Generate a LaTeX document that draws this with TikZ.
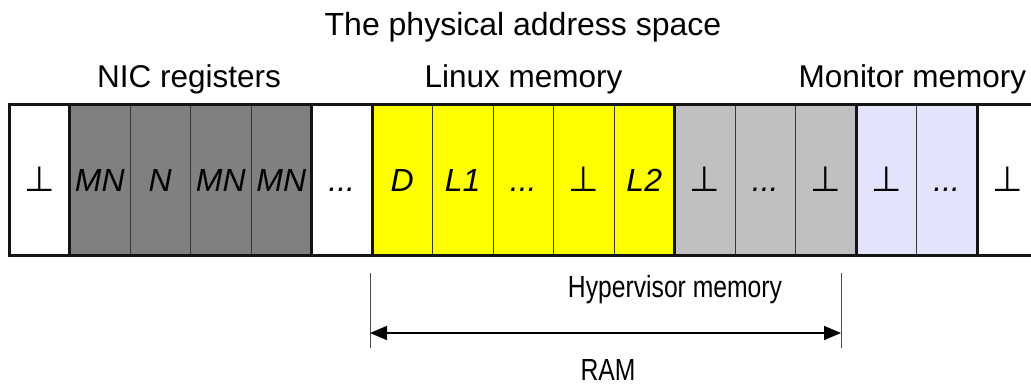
\documentclass[tikz,border=0pt]{standalone}
\usepackage{fontspec}
\setmainfont{Liberation Sans}
\newfontfamily\symfont{DejaVu Sans}
\usetikzlibrary{arrows.meta}

\definecolor{nicgray}{RGB}{128,128,128}
\definecolor{hypgray}{RGB}{192,192,192}
\definecolor{linuxyellow}{RGB}{255,255,0}
\definecolor{monlav}{RGB}{227,227,251}
\definecolor{edge}{RGB}{20,20,20}

% cell contents: italic ellipsis and the "undefined" mark
\newcommand{\celldots}{\itshape .\kern0pt.\kern0pt.}
\newcommand{\undef}{{\symfont\fontsize{35}{36}\selectfont ⊥}}

\tikzset{
  cell/.style={draw=edge!85, line width=1pt, minimum width=60.5pt, minimum height=151pt,
    inner sep=0pt, outer sep=0pt, text height=23pt, text depth=0pt,
    font=\fontsize{32}{36}\selectfont},
  group/.style={draw=edge, line width=3pt},
  lbl/.style={anchor=base, inner sep=0pt, font=\fontsize{31.5}{36}\selectfont},
  narrow/.style={lbl, xscale=0.81, font=\fontsize{30.5}{36}\selectfont},
  tick/.style={draw=black!70, line width=0.8pt},
  span/.style={draw=black, line width=1.6pt, {Triangle[length=17pt,width=14pt]}-{Triangle[length=17pt,width=14pt]}}
}

\begin{document}
\begin{tikzpicture}[x=1pt,y=-1pt]
\useasboundingbox (0,0) rectangle (1031,387);

% the address strip, cut off at the right margin
\begin{scope}
\clip (0,0) rectangle (1031,387);
\foreach \i/\f/\t in {
   0/white/\undef,
   1/nicgray/\itshape MN, 2/nicgray/\itshape N, 3/nicgray/\itshape MN, 4/nicgray/\itshape MN,
   5/white/\celldots,
   6/linuxyellow/\itshape D, 7/linuxyellow/\itshape L1, 8/linuxyellow/\celldots,
   9/linuxyellow/\undef, 10/linuxyellow/\itshape L2,
   11/hypgray/\undef, 12/hypgray/\celldots, 13/hypgray/\undef,
   14/monlav/\undef, 15/monlav/\celldots,
   16/white/\undef}
  \node[cell, fill=\f] (c\i) at ({9+60.5*\i+30.25},180.5) {\t};

% region outlines
\draw[group] (c0.north west) rectangle (c0.south east);
\draw[group] (c1.north west) rectangle (c4.south east);
\draw[group] (c5.north west) rectangle (c5.south east);
\draw[group] (c6.north west) rectangle (c10.south east);
\draw[group] (c11.north west) rectangle (c13.south east);
\draw[group] (c14.north west) rectangle (c15.south east);
\draw[group] (c16.north west) rectangle (c16.south east);
\end{scope}

% captions
\node[lbl, font=\fontsize{32}{36}\selectfont] (title) at (523,36) {The physical address space};
\node[lbl] (nic) at (189,88) {NIC registers};
\node[lbl] (linux) at (523.5,88) {Linux memory};
\node[lbl] (monitor) at (912.5,88) {Monitor memory};
\node[narrow] (hyp) at (675,298) {Hypervisor memory};
\node[narrow] (ram) at (608,381) {RAM};

% extent of the RAM
\coordinate (ramLtop) at (370,273);
\coordinate (ramLbot) at (370,348);
\coordinate (ramRtop) at (841,273);
\coordinate (ramRbot) at (841,348);
\coordinate (ramL) at (370,333);
\coordinate (ramR) at (841,333);
\draw[tick] (ramLtop) -- (ramLbot);
\draw[tick] (ramRtop) -- (ramRbot);
\draw[span] (ramL) -- (ramR);
\end{tikzpicture}
\end{document}
